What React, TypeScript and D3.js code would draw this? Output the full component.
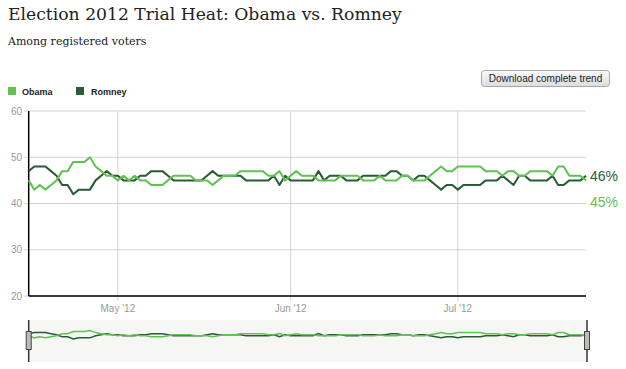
import React from "react";
import * as d3 from "d3";

const TITLE = "Election 2012 Trial Heat: Obama vs. Romney";
const SUBTITLE = "Among registered voters";
const SERIES_NAMES = ["Obama", "Romney"];
const START_DATE = "2012-04-15";
const Y_TICKS = [20, 30, 40, 50, 60];
const MONTH_TICKS = ["2012-05-01", "2012-06-01", "2012-07-01"];

const obama = [
  45, 43, 44, 43, 44, 45, 47, 47, 49, 49, 49, 50, 48, 47, 46, 46, 45, 46, 45, 46,
  45, 45, 44, 44, 44, 45, 46, 46, 46, 46, 45, 45, 45, 44, 45, 46, 46, 46, 47, 47,
  47, 47, 47, 46, 46, 47, 45, 46, 47, 46, 46, 46, 45, 45, 45, 45, 46, 46, 46, 46,
  45, 45, 45, 46, 45, 45, 45, 46, 46, 45, 45, 45, 46, 47, 48, 47, 47, 48, 48, 48,
  48, 48, 47, 47, 47, 46, 47, 47, 46, 46, 47, 47, 47, 47, 46, 48, 48, 46, 46, 46,
  45,
];
const romney = [
  47, 48, 48, 48, 47, 46, 44, 44, 42, 43, 43, 43, 45, 46, 47, 46, 46, 45, 45, 45,
  46, 46, 47, 47, 47, 46, 45, 45, 45, 45, 45, 45, 46, 47, 46, 46, 46, 46, 46, 45,
  45, 45, 45, 45, 46, 44, 46, 45, 45, 45, 45, 45, 47, 45, 46, 46, 46, 45, 45, 45,
  46, 46, 46, 46, 46, 47, 47, 46, 46, 45, 46, 46, 45, 44, 43, 44, 44, 43, 44, 44,
  44, 44, 45, 45, 45, 46, 45, 44, 46, 46, 45, 45, 45, 45, 46, 44, 44, 45, 45, 45,
  46,
];

const OBAMA_COLOR = "#62c153";
const ROMNEY_COLOR = "#2b5a36";
const SANS = "'Liberation Sans', Arial, Helvetica, sans-serif";
const SERIF = "'DejaVu Serif', Georgia, serif";

function parseDay(s: string) {
  const [y, m, d] = s.split("-").map(Number);
  return new Date(y, m - 1, d);
}

export default function App() {
  const W = 626;
  const H = 369;
  const left = 28.7;
  const right = 586;
  const top = 111;
  const bottom = 296;

  const start = parseDay(START_DATE);
  const dates = obama.map((_, i) => d3.timeDay.offset(start, i));
  const x = d3.scaleTime().domain([dates[0], dates[dates.length - 1]]).range([left, right]);
  const y = d3.scaleLinear().domain([20, 60]).range([bottom, top]);
  const navTop = 320;
  const navBottom = 362;
  const yNav = d3.scaleLinear().domain([20, 60]).range([navBottom, navTop]);

  const line = d3
    .line<number>()
    .x((_, i) => x(dates[i]))
    .y((d) => y(d));
  const navLine = d3
    .line<number>()
    .x((_, i) => x(dates[i]))
    .y((d) => yNav(d));

  const months = MONTH_TICKS.map(parseDay);
  const fmt = d3.timeFormat("%b '%y");

  const lastO = obama[obama.length - 1];
  const lastR = romney[romney.length - 1];

  return (
    <div style={{ position: "absolute", left: 0, top: 0 }}>
      <svg width={W} height={H} style={{ display: "block" }}>
        <defs>
          <linearGradient id="btn" x1="0" y1="0" x2="0" y2="1">
            <stop offset="0" stopColor="#fbfbfb" />
            <stop offset="1" stopColor="#dcdcdc" />
          </linearGradient>
        </defs>
        <rect width={W} height={H} fill="#fff" />
        <text x={8} y={20} fontFamily={SERIF} fontSize={17.2} fill="#222">
          {TITLE}
        </text>
        <text x={8} y={45} fontFamily={SERIF} fontSize={11} fill="#222">
          {SUBTITLE}
        </text>

        {/* legend */}
        <rect x={8} y={87} width={8} height={8} fill={OBAMA_COLOR} />
        <text x={22} y={94.5} fontFamily={SANS} fontSize={9} fontWeight="bold" fill="#222">
          {SERIES_NAMES[0]}
        </text>
        <rect x={76} y={87} width={8} height={8} fill={ROMNEY_COLOR} />
        <text x={91} y={94.5} fontFamily={SANS} fontSize={9} fontWeight="bold" fill="#222">
          {SERIES_NAMES[1]}
        </text>

        {/* button */}
        <rect x={481.5} y={70.5} width={128} height={16} rx={3} fill="url(#btn)" stroke="#a8a8a8" />
        <text x={545.5} y={82} textAnchor="middle" fontFamily={SANS} fontSize={10} fill="#222">
          Download complete trend
        </text>

        {/* horizontal grid */}
        {Y_TICKS.map((t) => (
          <g key={t}>
            <line x1={24} x2={right} y1={y(t)} y2={y(t)} stroke="#d4d4d4" strokeWidth={1} />
            <text x={22} y={y(t) + 3.5} textAnchor="end" fontFamily={SANS} fontSize={10} fill="#999">
              {t}
            </text>
          </g>
        ))}
        {/* vertical grid */}
        {months.map((m) => (
          <g key={m.getTime()}>
            <line x1={x(m)} x2={x(m)} y1={top} y2={bottom + 5} stroke="#d4d4d4" strokeWidth={1} />
            <text x={x(m)} y={312} textAnchor="middle" fontFamily={SANS} fontSize={10} fill="#999">
              {fmt(m)}
            </text>
          </g>
        ))}
        {/* axes */}
        <line x1={left} x2={left} y1={top} y2={bottom} stroke="#000" strokeWidth={1.5} />
        <line x1={left} x2={right} y1={bottom} y2={bottom} stroke="#000" strokeWidth={1.5} />

        {/* series */}
        <path d={line(romney) || ""} fill="none" stroke={ROMNEY_COLOR} strokeWidth={2} strokeLinejoin="round" />
        <path d={line(obama) || ""} fill="none" stroke={OBAMA_COLOR} strokeWidth={2} strokeLinejoin="round" />

        <text x={590} y={y(lastR) + 5} fontFamily={SANS} fontSize={14} fill={ROMNEY_COLOR}>
          {lastR}%
        </text>
        <text x={590} y={y(lastO) + 27} fontFamily={SANS} fontSize={14} fill={OBAMA_COLOR}>
          {lastO}%
        </text>

        {/* navigator */}
        <rect x={left} y={navTop} width={right + 1 - left} height={navBottom - navTop} fill="#f6f6f4" />
        <path d={navLine(romney) || ""} fill="none" stroke={ROMNEY_COLOR} strokeWidth={1.5} />
        <path d={navLine(obama) || ""} fill="none" stroke={OBAMA_COLOR} strokeWidth={1.5} />
        {[left, right + 1].map((hx, k) => (
          <g key={k}>
            <line x1={hx} x2={hx} y1={navTop} y2={navBottom} stroke="#333" strokeWidth={1.5} />
            <rect x={hx - 2.5} y={331.5} width={5} height={18} fill="#bbb" stroke="#444" strokeWidth={1} />
          </g>
        ))}
      </svg>
    </div>
  );
}
